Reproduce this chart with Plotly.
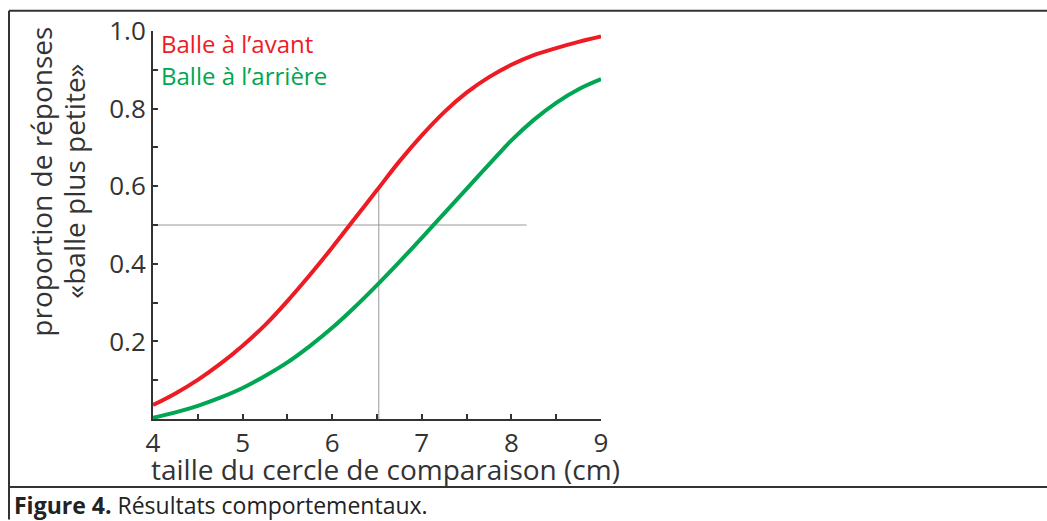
import plotly.graph_objects as go

# ---- data ----
taille = [4.00, 4.25, 4.50, 4.75, 5.00, 5.25, 5.50, 5.75, 6.00, 6.25, 6.50,
          6.75, 7.00, 7.25, 7.50, 7.75, 8.00, 8.25, 8.50, 8.75, 9.00]
balle_avant = [0.036, 0.066, 0.101, 0.142, 0.189, 0.242, 0.304, 0.371, 0.442, 0.516, 0.590,
               0.664, 0.731, 0.791, 0.841, 0.881, 0.913, 0.938, 0.956, 0.972, 0.986]
balle_arriere = [0.003, 0.017, 0.034, 0.055, 0.080, 0.111, 0.146, 0.188, 0.235, 0.288, 0.345,
                 0.405, 0.467, 0.530, 0.593, 0.656, 0.718, 0.771, 0.815, 0.850, 0.876]

seuil = 0.5            # horizontal reference level
seuil_x_fin = 8.17     # end of horizontal reference line
pse_x = 6.52           # vertical reference line position
pse_y_fin = 0.60       # top of vertical reference line

x_tickvals = [4, 4.5, 5, 5.5, 6, 6.5, 7, 7.5, 8, 8.5, 9]
x_ticktext = ["4", "", "5", "", "6", "", "7", "", "8", "", "9"]
y_tickvals = [0.1, 0.2, 0.3, 0.4, 0.5, 0.6, 0.7, 0.8, 0.9, 1.0]
y_ticktext = ["", "0.2", "", "0.4", "", "0.6", "", "0.8", "", "1.0"]

noms = ["Balle à l’avant", "Balle à l’arrière"]
couleurs = ["#ED1C24", "#00A651"]
titre_x = "taille du cercle de comparaison (cm)"
titre_y = ["proportion de réponses", "«balle plus petite»"]
legende = "<b>Figure 4.</b> Résultats comportementaux."

# ---- layout geometry (pixels) ----
W, H = 1047, 521
L, R, T, B = 153, 601, 25, 419
FONT = "Open Sans"
TXT = "#333333"


def px(xp):
    return (xp - L) / (R - L)


def py(yp):
    return (B - yp) / (B - T)


fig = go.Figure()

# reference lines
fig.add_trace(go.Scatter(x=[taille[0], seuil_x_fin], y=[seuil, seuil], mode="lines",
                         line=dict(color="#9a9a9a", width=1), showlegend=False, hoverinfo="skip"))
fig.add_trace(go.Scatter(x=[pse_x, pse_x], y=[0, pse_y_fin], mode="lines",
                         line=dict(color="#9a9a9a", width=1), showlegend=False, hoverinfo="skip"))

for nom, vals, c in zip(noms, [balle_avant, balle_arriere], couleurs):
    fig.add_trace(go.Scatter(x=taille, y=vals, mode="lines", name=nom,
                             line=dict(color=c, width=4, shape="spline", smoothing=1.0),
                             showlegend=False, cliponaxis=False))

axis_common = dict(showline=True, linecolor="#333333", linewidth=2, ticks="inside",
                   ticklen=5, tickwidth=2, tickcolor="#333333", showgrid=False, zeroline=False,
                   tickfont=dict(family=FONT, size=26, color=TXT))
fig.update_xaxes(range=[4, 9], tickvals=x_tickvals, ticktext=x_ticktext, **axis_common)
fig.update_yaxes(range=[0, 1], tickvals=y_tickvals, ticktext=y_ticktext, **axis_common)

annotations = [
    dict(text=noms[0], x=px(159), y=py(38), xanchor="left", yanchor="middle",
         font=dict(family=FONT, size=24, color=couleurs[0])),
    dict(text=noms[1], x=px(159), y=py(70), xanchor="left", yanchor="middle",
         font=dict(family=FONT, size=24, color=couleurs[1])),
    dict(text=titre_x, x=px(385), y=py(470), xanchor="center", yanchor="middle",
         font=dict(family=FONT, size=28, color=TXT)),
    dict(text=titre_y[0], x=px(41), y=py(178), xanchor="center", yanchor="middle", textangle=-90,
         font=dict(family=FONT, size=28, color=TXT)),
    dict(text=titre_y[1], x=px(74), y=py(178), xanchor="center", yanchor="middle", textangle=-90,
         font=dict(family=FONT, size=28, color=TXT)),
    dict(text=legende, x=px(12), y=py(506), xanchor="left", yanchor="middle",
         font=dict(family=FONT, size=23, color="#222222")),
]
for a in annotations:
    a.update(xref="paper", yref="paper", showarrow=False)

shapes = [
    dict(type="line", x0=px(9), x1=px(1047), y0=py(4.5), y1=py(4.5)),
    dict(type="line", x0=px(9), x1=px(9), y0=py(4.5), y1=py(521)),
    dict(type="line", x0=px(9), x1=px(1047), y0=py(488), y1=py(488)),
]
for s in shapes:
    s.update(xref="paper", yref="paper", line=dict(color="#333333", width=2))

fig.update_layout(width=W, height=H, margin=dict(l=L, r=W - R, t=T, b=H - B),
                  paper_bgcolor="white", plot_bgcolor="white",
                  annotations=annotations, shapes=shapes, showlegend=False)

fig.write_html("out.html")
